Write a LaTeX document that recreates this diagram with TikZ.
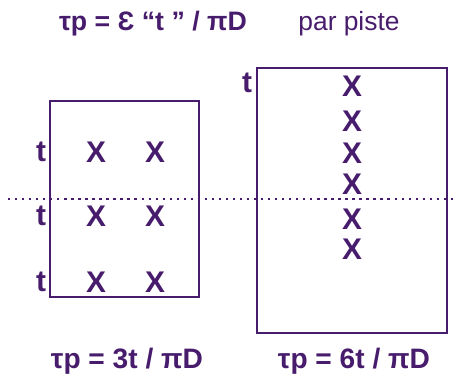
\documentclass[tikz,border=0pt]{standalone}
\usepackage{fontspec}
\setmainfont{Liberation Sans}
\usepackage{xcolor}
\usetikzlibrary{positioning}
\definecolor{violet}{RGB}{72,28,108}

\begin{document}
\begin{tikzpicture}[x=0.02cm,y=-0.02cm,
    every node/.style={text=violet,font=\bfseries\fontsize{16}{16}\selectfont,inner sep=0pt},
    piste/.style={draw=violet,line width=1pt},
    marque/.style={font=\bfseries\fontsize{17}{17}\selectfont}]
  \useasboundingbox (0,0) rectangle (454,374);

  % titre
  \node (titre) at (153,24) {\fontsize{15.2}{15}\selectfont τp = Ɛ “t ” / πD};
  \node (piste) at (349,24) {\mdseries\fontsize{15}{15}\selectfont par piste};

  % boites
  \draw[piste] (50,101) rectangle (199,297);
  \draw[piste] (257,68) rectangle (447,333);
  \draw[violet,line width=1.3pt,dash pattern=on 1.3pt off 2.7pt] (8,199) -- (454,199);

  % gauche
  \foreach \y [count=\i] in {152,216,282}{
    \node[marque] (tg\i) at (41,\y) {t};
    \node[marque] (xa\i) at (96,\y) {X};
    \node[marque] (xb\i) at (155,\y) {X};
  }
  % droite
  \node[marque] (td) at (247,83) {t};
  \foreach \y [count=\i] in {86,121,153,184,219,249}{
    \node[marque] (xd\i) at (352,\y) {X};
  }

  % formules
  \node (fg) at (127,361) {τp = 3t / πD};
  \node (fd) at (354,361) {τp = 6t / πD};
\end{tikzpicture}
\end{document}
